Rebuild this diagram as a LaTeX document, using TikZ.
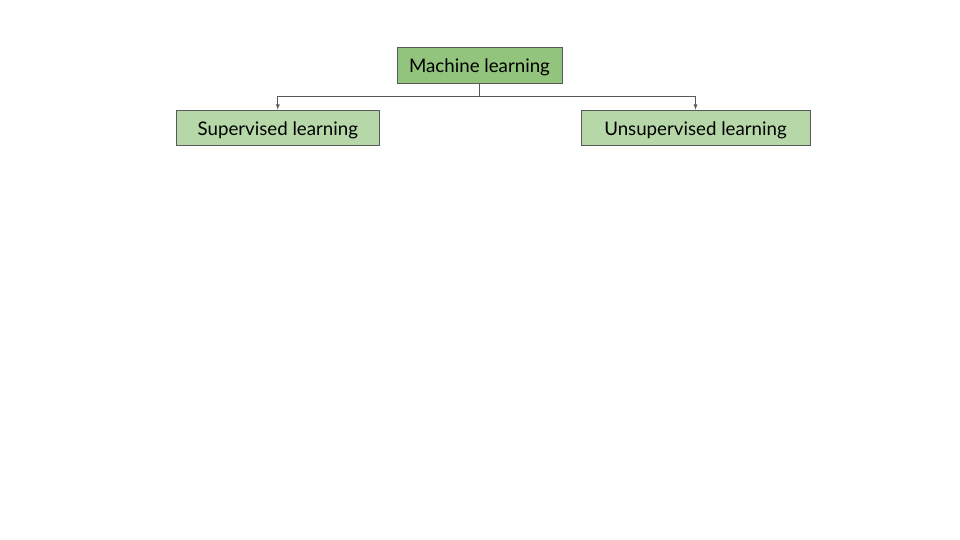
\documentclass[tikz,border=0pt]{standalone}
\usepackage{fontspec}
\setmainfont{Lato}

\definecolor{rootgreen}{HTML}{93C47D}
\definecolor{leafgreen}{HTML}{B6D7A8}
\definecolor{edgegray}{HTML}{595959}

\begin{document}
\begin{tikzpicture}[> = latex, x = 1pt, y = -1pt,
	box/.style = {draw = edgegray, line width = 0.8pt, inner sep = 0pt, minimum height = 35.5pt, text height = 15pt, text depth = 0pt, font = \fontsize{18.7}{22}\selectfont}]

	% Frame
	
	\useasboundingbox (0, 0) rectangle (960, 540);
	
	% Root
	
	\node [box, fill = rootgreen, minimum width = 165pt] (ml) at (479.5, 65.2) {Machine learning};
	
	% Children
	
	\node [box, fill = leafgreen, minimum width = 203pt] (sup) at (277.8, 127.8) {Supervised learning};
	\node [box, fill = leafgreen, minimum width = 229pt] (unsup) at (695.5, 127.8) {Unsupervised learning};
	
	% Connectors
	
	\coordinate (split) at (479.5, 96);
	\draw [->, edgegray, line width = 0.8pt] (ml) -- (split) -| (sup);
	\draw [->, edgegray, line width = 0.8pt] (split) -| (unsup);

\end{tikzpicture}
\end{document}
